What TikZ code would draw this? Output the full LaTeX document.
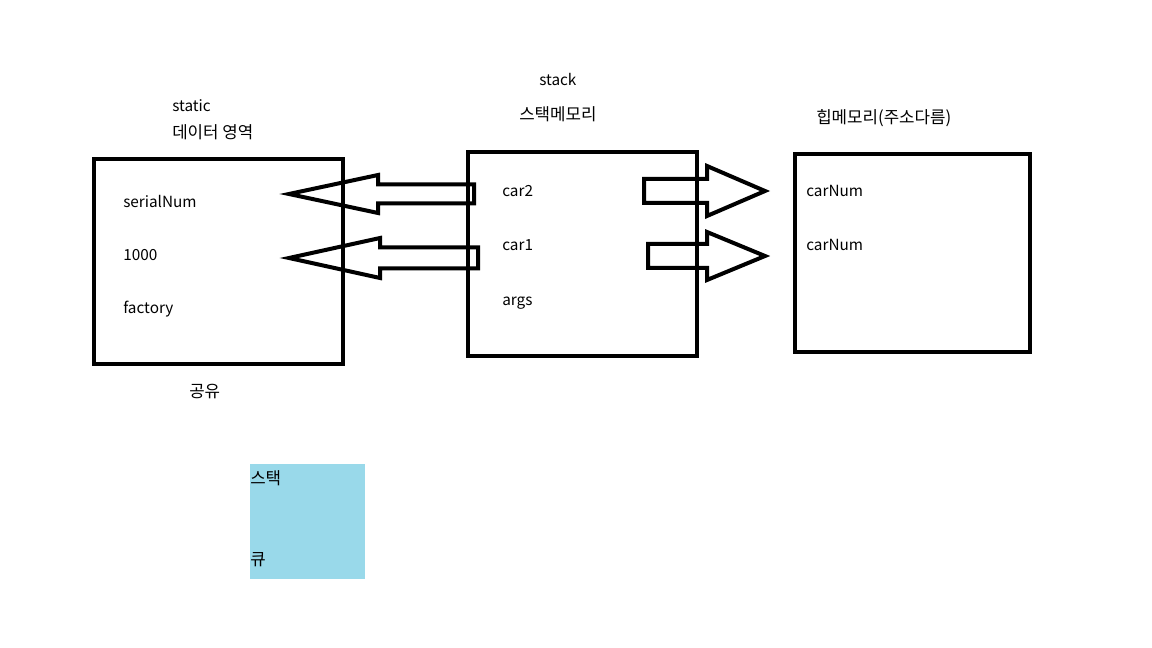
\documentclass[tikz,border=0pt]{standalone}
\usepackage{fontspec}
\setmainfont{Noto Sans CJK KR}
\usetikzlibrary{positioning}
\definecolor{queuec}{RGB}{153,217,234}

% block arrow: tail x, head base x, tip x, centre y, shaft half, head half
\newcommand{\blkarrow}[6]{%
  \draw[line width=3pt, line join=miter] (#1,#4-#5) -- (#2,#4-#5) -- (#2,#4-#6) -- (#3,#4)
    -- (#2,#4+#6) -- (#2,#4+#5) -- (#1,#4+#5) -- cycle;}

\begin{document}
\begin{tikzpicture}[x=0.75pt, y=-0.75pt, font=\fontsize{11.5}{14}\selectfont,
  membox/.style={draw, line width=3pt, anchor=north west, inner sep=0pt},
  lbl/.style={anchor=west, inner sep=0pt},
  klbl/.style={lbl, font=\fontsize{12.6}{15}\selectfont}]
  \useasboundingbox (0,0) rectangle (1152,648);
  % memory areas
  \node[membox, minimum width=186.5pt, minimum height=153.5pt] (static) at (92,157) {};
  \node[membox, minimum width=171.5pt, minimum height=153pt] (stack) at (466,150) {};
  \node[membox, minimum width=176.5pt, minimum height=148.5pt] (heap) at (793,152) {};
  % titles
  \node[lbl] (statictop) at (172,106) {static};
  \node[klbl] (staticname) at (172,132) {데이터 영역};
  \node[lbl] (stacktop) at (539,80) {stack};
  \node[klbl] (stackname) at (519,114) {스택메모리};
  \node[klbl] (heapname) at (816,118) {힙메모리(주소다름)};
  \node[klbl] (shared) at (189,392) {공유};
  % contents
  \node[lbl] (serial) at (123,201) {serialNum};
  \node[lbl] (thousand) at (123,255) {1000};
  \node[lbl] (factory) at (123,309) {factory};
  \node[lbl] (car2) at (502,191) {car2};
  \node[lbl] (car1) at (502,245) {car1};
  \node[lbl] (args) at (502,303) {args};
  \node[lbl] (carnum1) at (806,191) {carNum};
  \node[lbl] (carnum2) at (806,245) {carNum};
  % arrows
  \blkarrow{474}{378}{289}{194}{9.5}{19}
  \blkarrow{478}{380}{289}{258}{10.5}{20}
  \blkarrow{644}{707}{765}{191}{12}{25}
  \blkarrow{648}{707}{765}{256}{12}{24}
  % stack / queue note
  \node[fill=queuec, anchor=north west, minimum width=86pt, minimum height=86pt, inner sep=0pt] (note) at (250,464) {};
  \node[klbl] (notestack) at (250,478) {스택};
  \node[klbl] (notequeue) at (250,560) {큐};
\end{tikzpicture}
\end{document}
